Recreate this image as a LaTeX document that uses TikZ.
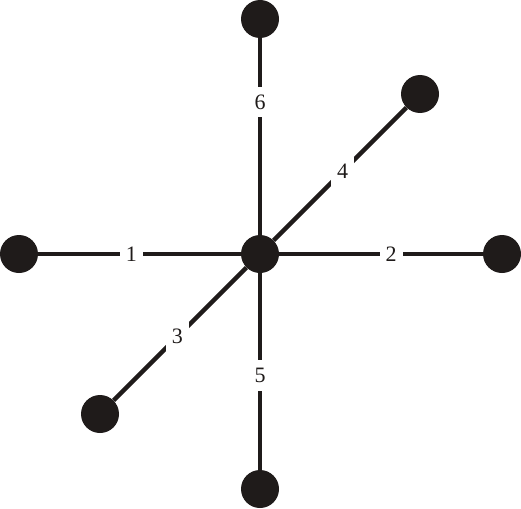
\documentclass[tikz,border=0pt]{standalone}
\usepackage{fontspec}
\setmainfont{Liberation Serif}
\usepackage{tikz}
\definecolor{ink}{RGB}{31,27,26}

\begin{document}
\begin{tikzpicture}[x=1pt,y=-1pt,
  vtx/.style={circle,fill=ink,draw=none,minimum size=38pt,inner sep=0},
  edge/.style={draw=ink,line width=4.5pt},
  lbl/.style={fill=white,inner xsep=6pt,inner ysep=8pt,font=\fontsize{22}{24}\selectfont,text=ink}]
  \useasboundingbox (0,0) rectangle (521,508);
  % vertices
  \node[vtx] (c) at (260,254) {};
  \node[vtx] (v1) at (19,254) {};
  \node[vtx] (v2) at (502,254) {};
  \node[vtx] (v3) at (100,414) {};
  \node[vtx] (v4) at (420,94) {};
  \node[vtx] (v5) at (260,489) {};
  \node[vtx] (v6) at (260,19) {};
  % edges with their numbers
  \draw[edge] (c) -- node[lbl,pos=0.54] {1} (v1);
  \draw[edge] (c) -- node[lbl,pos=0.55] {2} (v2);
  \draw[edge] (c) -- node[lbl,pos=0.52] {3} (v3);
  \draw[edge] (c) -- node[lbl,pos=0.52] {4} (v4);
  \draw[edge] (c) -- node[lbl,pos=0.52] {5} (v5);
  \draw[edge] (c) -- node[lbl,pos=0.675] {6} (v6);
\end{tikzpicture}
\end{document}
